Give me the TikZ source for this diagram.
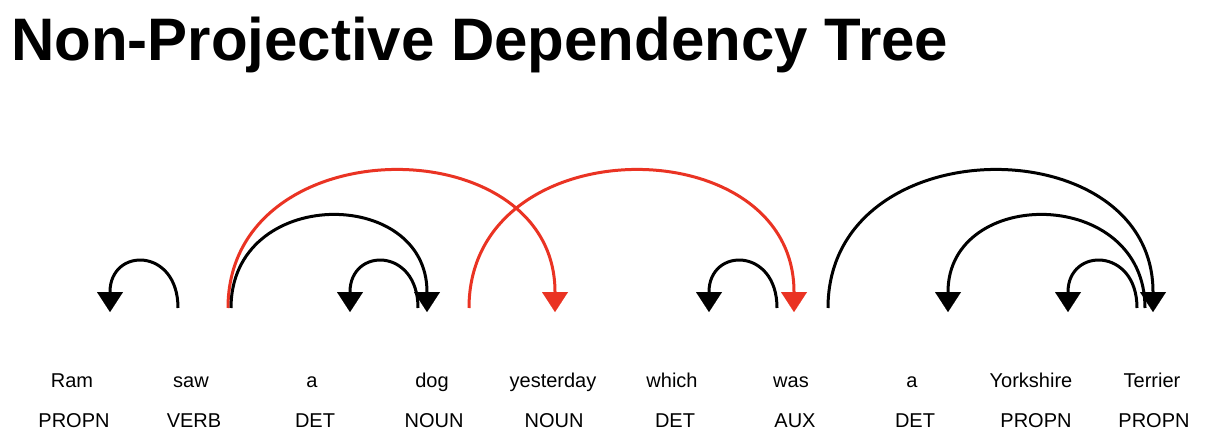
\documentclass[tikz,border=0pt]{standalone}
\usepackage{fontspec}
\setmainfont{Liberation Sans}
\usetikzlibrary{arrows.meta}
\definecolor{arcred}{RGB}{234,51,35}
\tikzset{
  word/.style={anchor=base,inner sep=0pt,font=\fontsize{20}{24}\selectfont},
  tag/.style={anchor=base,inner sep=0pt,font=\fontsize{20}{24}\selectfont},
  dep/.style={line width=3pt,black,-{Triangle[width=26pt,length=20pt,line width=0.01pt]}},
  reddep/.style={dep,arcred},
}
\begin{document}
\begin{tikzpicture}[x=1pt,y=-1pt]
\useasboundingbox[fill=white] (0,0) rectangle (1228,446);
\node[anchor=base west,inner sep=0pt,font=\fontsize{60}{64}\selectfont\bfseries] (title) at (11,61) {Non-Projective Dependency Tree};
% words
\node[word] (w1) at (72,387) {Ram};
\node[word] (w2) at (191,387) {saw};
\node[word] (w3) at (312,387) {a};
\node[word] (w4) at (432,387) {dog};
\node[word] (w5) at (553,387) {yesterday};
\node[word] (w6) at (672,387) {which};
\node[word] (w7) at (791,387) {was};
\node[word] (w8) at (912,387) {a};
\node[word] (w9) at (1031,387) {Yorkshire};
\node[word] (w10) at (1152,387) {Terrier};
% tags
\node[tag] (t1) at (74,427) {PROPN};
\node[tag] (t2) at (194,427) {VERB};
\node[tag] (t3) at (315,427) {DET};
\node[tag] (t4) at (434,427) {NOUN};
\node[tag] (t5) at (554,427) {NOUN};
\node[tag] (t6) at (675,427) {DET};
\node[tag] (t7) at (795,427) {AUX};
\node[tag] (t8) at (915,427) {DET};
\node[tag] (t9) at (1036,427) {PROPN};
\node[tag] (t10) at (1154,427) {PROPN};
% arc end points
\coordinate (s1) at (178,308);  \coordinate (e1) at (110,312);
\coordinate (s2) at (418,308);  \coordinate (e2) at (350,312);
\coordinate (s3) at (231,308);  \coordinate (e3) at (427,312);
\coordinate (s4) at (228,308);  \coordinate (e4) at (555,312);
\coordinate (s5) at (469,308);  \coordinate (e5) at (794,312);
\coordinate (s6) at (777,308);  \coordinate (e6) at (709,312);
\coordinate (s7) at (828,308);  \coordinate (e7) at (1153,312);
\coordinate (s8) at (1145,308); \coordinate (e8) at (948,312);
\coordinate (s9) at (1137,308); \coordinate (e9) at (1068,312);
% arcs
\draw[reddep] (s4) .. controls (228,126) and (555,126) .. (e4);
\draw[reddep] (s5) .. controls (469,126) and (794,126) .. (e5);
\draw[dep] (s1) .. controls (178,247) and (110,247) .. (e1);
\draw[dep] (s2) .. controls (418,247) and (350,247) .. (e2);
\draw[dep] (s3) .. controls (231,186) and (427,186) .. (e3);
\draw[dep] (s6) .. controls (777,247) and (709,247) .. (e6);
\draw[dep] (s7) .. controls (828,126) and (1153,126) .. (e7);
\draw[dep] (s8) .. controls (1145,186) and (948,186) .. (e8);
\draw[dep] (s9) .. controls (1137,247) and (1068,247) .. (e9);
\end{tikzpicture}
\end{document}
